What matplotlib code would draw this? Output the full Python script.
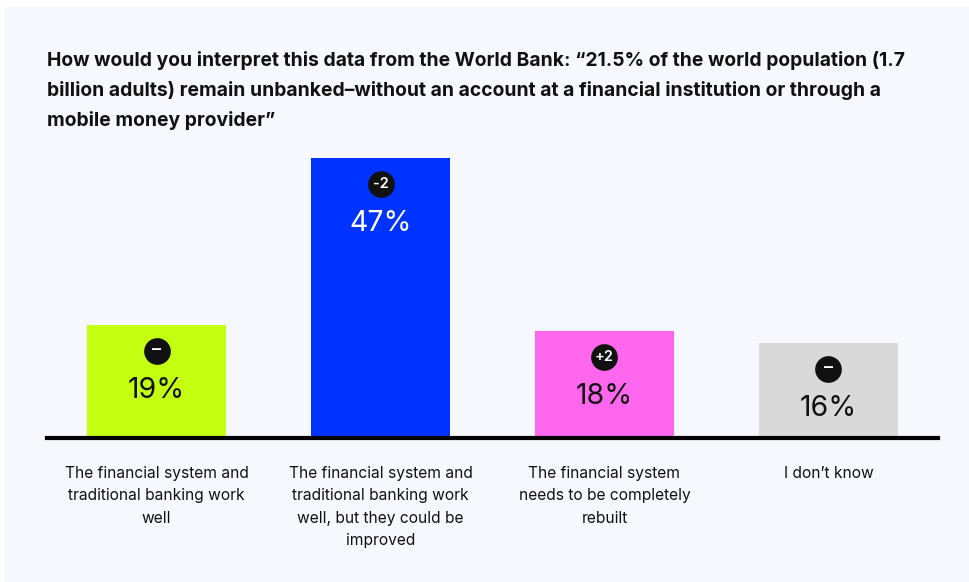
import matplotlib.pyplot as plt
from matplotlib.patches import Rectangle
from matplotlib.transforms import offset_copy

# survey answers
categories = [
    "The financial system and\ntraditional banking work\nwell",
    "The financial system and\ntraditional banking work\nwell, but they could be\nimproved",
    "The financial system\nneeds to be completely\nrebuilt",
    "I don\u2019t know",
]
shares = [19, 47, 18, 16]
changes = ["\u2013", "-2", "+2", "\u2013"]
bar_colors = ["#c4ff12", "#0033ff", "#ff66ee", "#d9d9d9"]
value_colors = ["#111111", "#ffffff", "#111111", "#111111"]

title = ("How would you interpret this data from the World Bank: \u201c21.5% of the world population (1.7\n"
         "billion adults) remain unbanked\u2013without an account at a financial institution or through a\n"
         "mobile money provider\u201d")

W, H = 969, 582
fig = plt.figure(figsize=(W / 100, H / 100), dpi=100)
fig.patch.set_facecolor("white")
fig.patches.append(Rectangle((5 / W, 0), 1, 1 - 7 / H, transform=fig.transFigure,
                             facecolor="#f7f8fd", edgecolor="none", zorder=-5))

plt.rcParams["font.family"] = ["Inter", "DejaVu Sans"]

fig.text(47 / W, 1 - 51 / H, title, ha="left", va="top", fontsize=13.9,
         fontweight="bold", color="#111111", linespacing=1.72)

ax = fig.add_axes([47 / W, 144 / H, (938 - 47) / W, 298 / H])
ax.set_facecolor("none")
x = list(range(len(shares)))
ax.bar(x, shares, width=0.62, color=bar_colors, zorder=2)
ax.set_xlim(-0.489, 3.489)
ax.set_ylim(0, 50)
ax.axhline(0, color="black", lw=3, zorder=3, clip_on=False)
for s in ax.spines.values():
    s.set_visible(False)
ax.set_yticks([])
ax.set_xticks([])

badge_tr = offset_copy(ax.transData, fig=fig, y=-26, units="dots")
value_tr = offset_copy(ax.transData, fig=fig, y=-66, units="dots")
for i, (v, ch, vc) in enumerate(zip(shares, changes, value_colors)):
    ax.scatter([i], [v], s=370, color="#111111", transform=badge_tr, zorder=4, lw=0)
    ax.text(i, v, ch, transform=badge_tr, ha="center", va="center", color="white",
            fontsize=10.5 if ch != "\u2013" else 13, fontweight="semibold", zorder=5)
    ax.text(i, v, f"{v}%", transform=value_tr, ha="center", va="center",
            color=vc, fontsize=20.5, fontweight="normal", zorder=5)

lab_tr = offset_copy(ax.transData, fig=fig, y=-28, units="dots")
for i, lab in enumerate(categories):
    ax.text(i, 0, lab, transform=lab_tr, ha="center", va="top", fontsize=11.2,
            color="#111111", linespacing=1.62)

fig.savefig("out.png", dpi=100, facecolor=fig.get_facecolor())
